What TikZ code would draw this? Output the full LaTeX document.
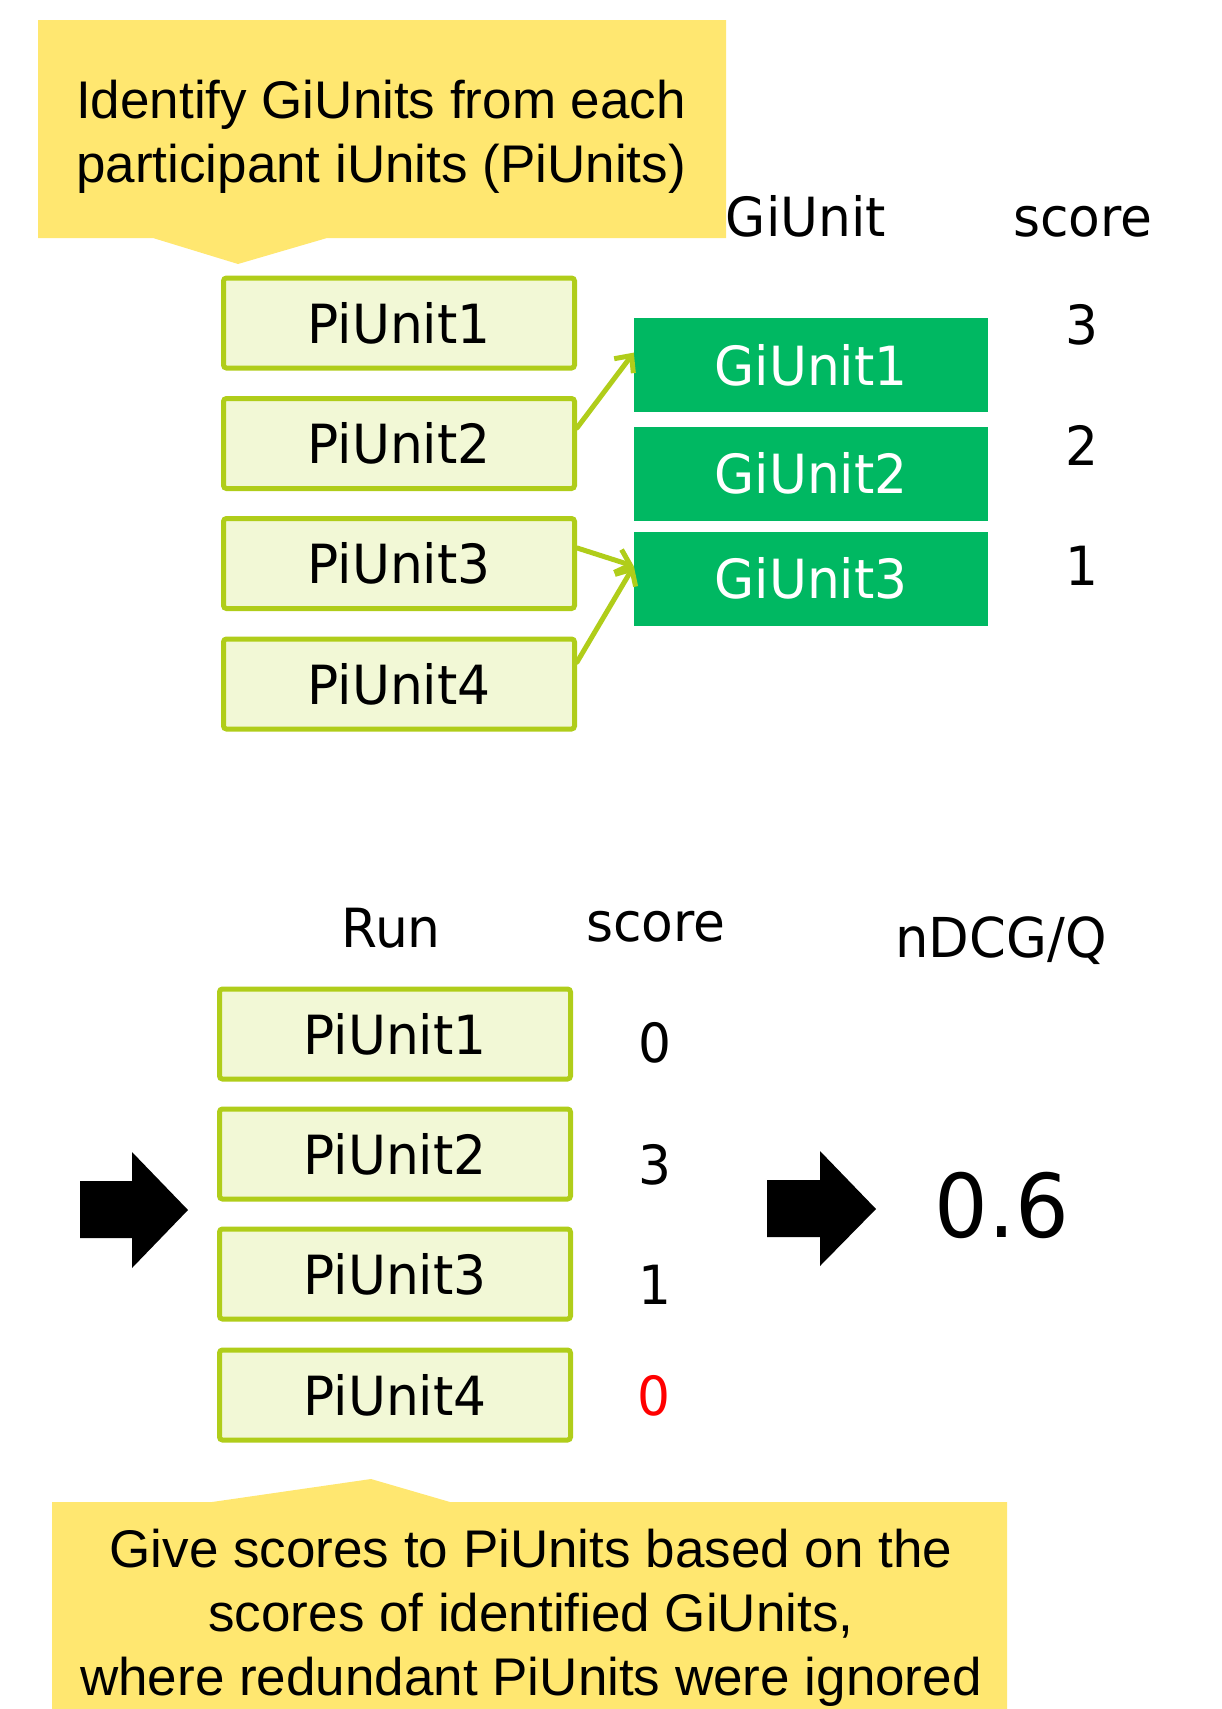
\documentclass[tikz,border=0pt]{standalone}
\usepackage{fontspec}
\setmainfont{Liberation Sans}
\newfontfamily\vf[FakeStretch=0.96]{DejaVu Sans}
\usetikzlibrary{arrows.meta}
\definecolor{callY}{RGB}{255,231,112}
\definecolor{piLine}{RGB}{176,205,26}
\definecolor{piFill}{RGB}{242,248,214}
\definecolor{giG}{RGB}{0,184,98}
\definecolor{redZ}{RGB}{255,0,0}
\tikzset{
  pibox/.style={draw=piLine, line width=5pt, fill=piFill, rounded corners=3pt,
    minimum width=351pt, minimum height=90pt, inner sep=0pt,
    font=\vf\fontsize{54}{60}\selectfont},
  gibox/.style={fill=giG, text=white, minimum width=354pt, minimum height=94pt,
    inner sep=0pt, font=\vf\fontsize{54}{60}\selectfont},
  vlab/.style={inner sep=0pt, anchor=base, font=\vf\fontsize{54}{60}\selectfont},
  clab/.style={inner sep=0pt, font=\fontsize{53}{60}\selectfont},
  link/.style={draw=piLine, line width=5pt, line cap=round,
    -{Straight Barb[length=13pt,width=24pt,line width=5pt]}},
  callout/.style={fill=callY},
  block/.style={fill=black}
}
\begin{document}
\begin{tikzpicture}[x=1pt,y=-1pt]
\useasboundingbox (0,0) rectangle (1222,1709);
% top callout
\fill[callout] (38,20) -- (726,20) -- (726,238) -- (327,238) -- (238,264) -- (153,238) -- (38,238) -- cycle;
\node[clab, anchor=base west] (t1) at (76,118) {Identify GiUnits from each};
\node[clab, anchor=base west] (t2) at (76,182) {participant iUnits (PiUnits)};
% headers
\node[vlab] (hg) at (806,236) {GiUnit};
\node[vlab] (hs) at (1083,236) {score};
% top PiUnits
\node[pibox] (p1) at (399,323) {PiUnit1};
\node[pibox] (p2) at (399,443.5) {PiUnit2};
\node[pibox] (p3) at (399,563.5) {PiUnit3};
\node[pibox] (p4) at (399,684) {PiUnit4};
% GiUnits
\node[gibox] (g1) at (811,365) {GiUnit1};
\node[gibox] (g2) at (811,473.5) {GiUnit2};
\node[gibox] (g3) at (811,578.5) {GiUnit3};
% scores
\node[vlab] (s1) at (1082,344) {3};
\node[vlab] (s2) at (1082,465) {2};
\node[vlab] (s3) at (1082,585) {1};
% links
\draw[link] (p2.5) -- (g1.176);
\draw[link] (p3.5) -- (g3.176);
\draw[link] (p4.7) -- (g3.176);
% bottom headers
\node[vlab] (hr) at (391,947) {Run};
\node[vlab] (hs2) at (656,941) {score};
\node[vlab, font=\vf\fontsize{55}{60}\selectfont] (hn) at (1001,957) {nDCG/Q};
% bottom PiUnits
\node[pibox] (q1) at (395,1034) {PiUnit1};
\node[pibox] (q2) at (395,1154) {PiUnit2};
\node[pibox] (q3) at (395,1274) {PiUnit3};
\node[pibox] (q4) at (395,1395) {PiUnit4};
\node[vlab] (r1) at (655,1062) {0};
\node[vlab] (r2) at (655,1184) {3};
\node[vlab] (r3) at (655,1304) {1};
\node[vlab, text=redZ] (r4) at (654,1415) {0};
% block arrows
\fill[block] (80,1181) -- (132,1181) -- (132,1152) -- (188,1210) -- (132,1268) -- (132,1238) -- (80,1238) -- cycle;
\fill[block] (767,1180) -- (820,1180) -- (820,1151) -- (876,1209) -- (820,1266) -- (820,1237) -- (767,1237) -- cycle;
\node[vlab, font=\vf\fontsize{88}{90}\selectfont] (res) at (1002,1237) {0.6};
% bottom callout
\fill[callout] (52,1502) -- (212,1502) -- (371,1479) -- (450,1502) -- (1007,1502) -- (1007,1709) -- (52,1709) -- cycle;
\node[clab, anchor=base] (b1) at (531,1567) {Give scores to PiUnits based on the};
\node[clab, anchor=base] (b2) at (531,1631) {scores of identified GiUnits,};
\node[clab, anchor=base] (b3) at (531,1695) {where redundant PiUnits were ignored};
\end{tikzpicture}
\end{document}
